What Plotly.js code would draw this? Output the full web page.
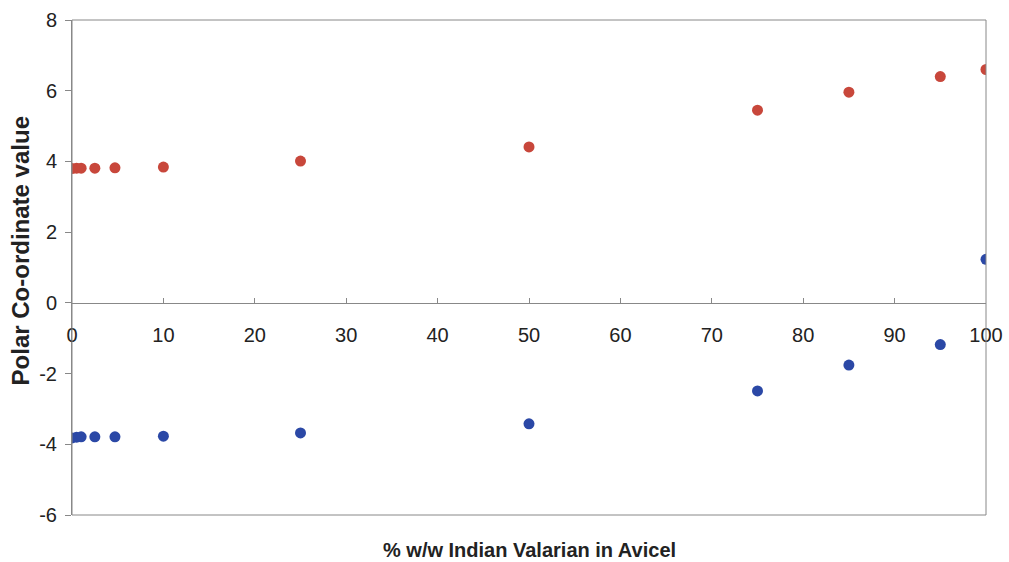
<!DOCTYPE html>
<html><head><meta charset="utf-8">
<script src="https://cdn.plot.ly/plotly-3.0.1.min.js"></script>
<style>body{margin:0;background:#fff}#c{width:1009px;height:562px}</style>
</head><body><div id="c"></div>
<script>
const xRed = [0, 0.5, 1, 2.5, 4.7, 10, 25, 50, 75, 85, 95, 100];
const yRed = [3.80, 3.81, 3.81, 3.81, 3.82, 3.84, 4.01, 4.41, 5.45, 5.96, 6.40, 6.60];
const xBlue = [0, 0.5, 1, 2.5, 4.7, 10, 25, 50, 75, 85, 95, 100];
const yBlue = [-3.82, -3.80, -3.79, -3.79, -3.79, -3.77, -3.68, -3.42, -2.49, -1.76, -1.18, 1.23];
const xTicks = [0,10,20,30,40,50,60,70,80,90,100];
const yTicks = [-6,-4,-2,0,2,4,6,8];

const font = {family:'Liberation Sans, Arial, sans-serif', color:'#222'};
const traces = [
  {x:xRed, y:yRed, mode:'markers', type:'scatter', marker:{color:'#c8473b', size:11}},
  {x:xBlue, y:yBlue, mode:'markers', type:'scatter', marker:{color:'#2b48a6', size:11}}
];
const layout = {
  width:1009, height:562, showlegend:false,
  paper_bgcolor:'#fff', plot_bgcolor:'#fff',
  margin:{l:72, r:23, t:20, b:47},
  font: Object.assign({size:20}, font),
  xaxis:{range:[0,100], tickvals:xTicks, ticktext:xTicks.map(String),
    showgrid:false, zeroline:false, showline:true, linecolor:'#888', linewidth:1,
    ticks:'inside', ticklen:5, tickcolor:'#888', ticklabelstandoff:14,
    anchor:'free', position:6/14, tickfont:Object.assign({size:20}, font)},
  yaxis:{range:[-6,8], tickvals:yTicks, ticktext:yTicks.map(String),
    showgrid:false, zeroline:false, showline:true, linecolor:'#888', linewidth:1,
    ticks:'outside', ticklen:6, tickcolor:'#888', ticklabelstandoff:4,
    tickfont:Object.assign({size:20}, font)},
  shapes:[
    {type:'rect', xref:'paper', yref:'paper', x0:0, x1:1, y0:0, y1:1, line:{color:'#888', width:1}}
  ],
  annotations:[
    {text:'<b>% w/w Indian Valarian in Avicel</b>', xref:'paper', yref:'paper', x:0.5, y:-0.071,
     yanchor:'middle', xanchor:'center', showarrow:false, font:Object.assign({size:20}, font)},
    {text:'<b>Polar Co-ordinate value</b>', xref:'paper', yref:'paper', x:-0.0569, y:0.5345,
     xanchor:'center', yanchor:'middle', textangle:-90, showarrow:false, font:Object.assign({size:24}, font)}
  ]
};
Plotly.newPlot('c', traces, layout, {displayModeBar:false, staticPlot:true});
</script></body></html>
